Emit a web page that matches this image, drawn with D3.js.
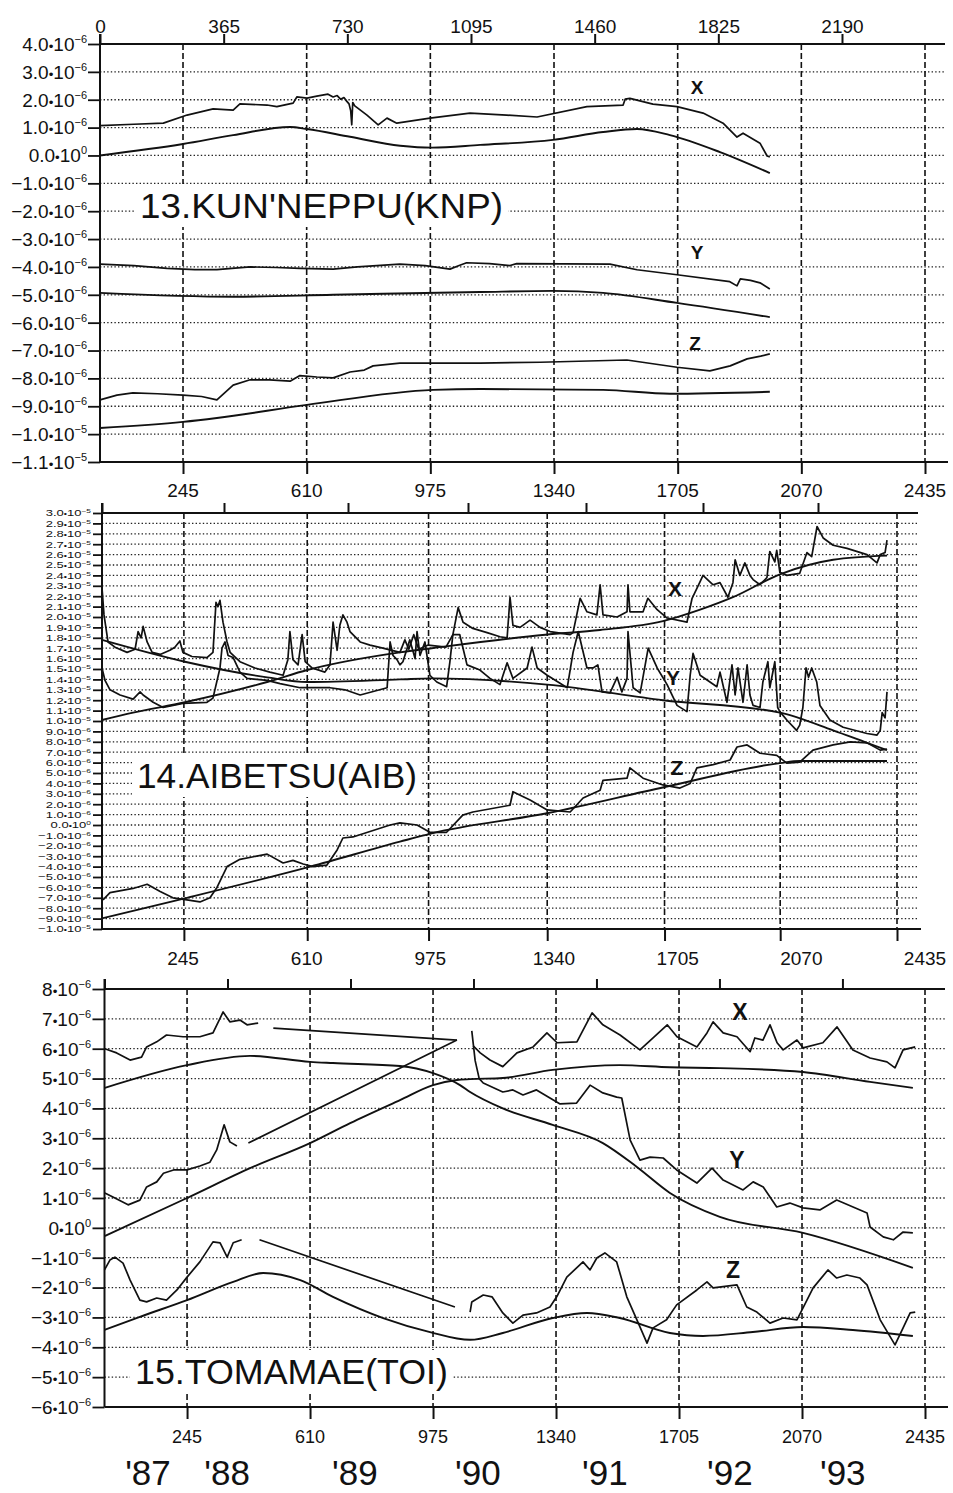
<!DOCTYPE html>
<html>
<head>
<meta charset="utf-8">
<script src="https://cdn.jsdelivr.net/npm/d3@7"></script>
<style>
  body { margin: 0; background: #fff; }
  svg { display: block; }
  text { font-family: "Liberation Sans", Arial, Helvetica, sans-serif; fill: #111; }
</style>
</head>
<body>
<script>
// Day counts on the top axes and year boundaries on the bottom axes
const dayTicks = [0, 365, 730, 1095, 1460, 1825, 2190];
const yearTicks = [245, 610, 975, 1340, 1705, 2070, 2435];
const yearNames = ["'87", "'88", "'89", "'90", "'91", "'92", "'93"];
const yearNameDays = [129, 364, 743, 1108, 1485, 1856, 2191];

// Values are [day, strain in units of 1e-6]; null breaks a line

// 13. KUN'NEPPU
const knpXObs = [[0,1.07],[100,1.12],[187,1.16],[257,1.45],[334,1.67],[393,1.63],[413,1.85],[493,1.81],[522,1.75],[570,1.88],[581,2.1],[611,2.06],[640,2.13],[673,2.2],[688,2.1],[700,2.15],[710,2.02],[720,2.08],[728,1.95],[735,1.85],[740,1.6],[743,1.1],[746,1.9],[752,1.78],[788,1.45],[821,1.1],[847,1.34],[876,1.16],[974,1.34],[1092,1.52],[1200,1.45],[1290,1.38],[1437,1.75],[1544,1.81],[1550,2.02],[1564,2.05],[1632,1.84],[1703,1.75],[1780,1.52],[1839,1.16],[1880,0.66],[1898,0.8],[1948,0.44],[1969,-0.02],[1977,-0.05]];
const knpXTh = [[0,0.0],[245,0.41],[393,0.73],[561,1.02],[611,0.95],[738,0.67],[886,0.35],[980,0.28],[1122,0.38],[1337,0.56],[1485,0.84],[1585,0.95],[1682,0.73],[1830,0.12],[1977,-0.63]];
const knpYObs = [[0,-3.9],[100,-3.95],[198,-4.05],[280,-4.1],[345,-4.1],[443,-4.0],[520,-4.02],[590,-4.05],[688,-4.08],[760,-4.0],[885,-3.9],[960,-3.95],[1033,-4.08],[1060,-3.95],[1082,-3.85],[1150,-3.88],[1210,-3.95],[1230,-3.88],[1505,-3.9],[1585,-4.1],[1703,-4.28],[1859,-4.53],[1880,-4.68],[1890,-4.43],[1920,-4.48],[1948,-4.57],[1977,-4.79]];
const knpYTh = [[0,-4.93],[393,-5.07],[688,-5.0],[1122,-4.9],[1337,-4.86],[1485,-4.93],[1703,-5.29],[1977,-5.8]];
const knpZObs = [[0,-8.77],[50,-8.6],[97,-8.52],[170,-8.55],[245,-8.6],[300,-8.65],[345,-8.77],[393,-8.24],[443,-8.05],[500,-8.05],[561,-8.1],[590,-7.9],[640,-7.95],[688,-7.98],[738,-7.77],[780,-7.7],[806,-7.55],[885,-7.45],[1122,-7.45],[1300,-7.42],[1555,-7.34],[1703,-7.6],[1800,-7.73],[1860,-7.55],[1910,-7.3],[1950,-7.2],[1977,-7.12]];
const knpZTh = [[0,-9.78],[245,-9.56],[345,-9.42],[611,-8.95],[983,-8.41],[1122,-8.38],[1485,-8.41],[1682,-8.55],[1977,-8.48]];

// 14. AIBETSU
const aibXObs = [[0,22.8],[6,20.2],[18,17.6],[39,17.1],[75,16.6],[99,16.9],[108,18.6],[117,18.0],[123,19.1],[135,17.6],[150,16.6],[174,16.4],[203,16.8],[218,17.1],[233,17.7],[242,16.6],[269,16.2],[314,16.1],[332,16.6],[341,21.4],[347,21.0],[353,21.6],[362,19.5],[374,17.6],[383,16.6],[412,15.7],[456,15.1],[500,14.7],[539,14.4],[553,15.9],[559,18.6],[568,15.9],[583,15.4],[595,18.3],[604,15.7],[624,15.1],[662,14.7],[677,15.4],[686,19.5],[698,16.8],[706,19.2],[715,20.2],[727,19.5],[736,18.6],[767,17.6],[797,17.3],[836,17.0],[888,16.6],[903,17.8],[915,16.9],[930,18.3],[945,16.9],[974,17.3],[1028,17.1],[1049,18.3],[1065,20.9],[1080,19.5],[1110,18.9],[1154,18.5],[1194,18.1],[1216,18.0],[1225,21.9],[1234,19.2],[1256,19.0],[1287,19.7],[1318,19.0],[1349,18.6],[1411,18.3],[1420,18.5],[1442,21.8],[1463,20.5],[1494,20.2],[1504,23.1],[1513,20.2],[1557,20.0],[1588,20.5],[1591,23.1],[1597,20.5],[1638,20.5],[1653,21.8],[1682,20.7],[1713,19.9],[1775,19.5],[1791,21.8],[1816,23.4],[1825,24.0],[1857,23.1],[1879,23.3],[1904,21.9],[1920,23.3],[1927,25.5],[1942,24.0],[1958,25.2],[1974,24.0],[1984,23.6],[2006,23.1],[2028,23.8],[2037,26.3],[2053,25.3],[2059,26.4],[2069,24.3],[2091,24.0],[2132,24.2],[2155,26.2],[2170,25.8],[2187,28.7],[2206,27.6],[2237,26.9],[2280,26.6],[2342,26.0],[2373,25.2],[2383,26.0],[2398,26.2],[2404,27.4]];
const aibXTh = [[0,10.1],[93,10.8],[248,11.8],[492,13.75],[610,14.9],[888,16.6],[985,17.0],[1334,18.3],[1504,18.75],[1700,19.6],[1816,20.7],[1920,21.9],[2069,24.1],[2237,25.5],[2404,25.9]];
const aibYObs = [[0,15.1],[9,13.9],[24,13.0],[54,12.5],[93,12.1],[114,12.8],[123,12.5],[153,11.8],[183,11.3],[242,11.7],[314,11.8],[332,12.2],[353,15.1],[359,17.0],[368,17.6],[377,16.3],[392,16.1],[412,14.7],[433,14.1],[492,13.9],[530,13.6],[589,13.2],[677,13.2],[721,13.0],[767,12.5],[849,13.2],[858,17.6],[867,16.3],[879,15.9],[888,15.4],[897,15.7],[918,17.8],[934,16.0],[940,18.6],[949,16.3],[964,17.6],[979,14.4],[1000,13.75],[1030,13.3],[1040,15.7],[1049,18.3],[1070,18.3],[1092,15.4],[1132,14.9],[1163,14.1],[1194,13.5],[1216,15.6],[1234,14.1],[1278,15.1],[1293,17.1],[1309,15.1],[1340,14.4],[1402,13.2],[1420,16.6],[1436,18.6],[1463,15.1],[1482,15.1],[1497,15.4],[1510,12.8],[1535,12.7],[1557,14.2],[1572,12.8],[1588,14.1],[1591,18.6],[1607,13.2],[1629,12.7],[1654,17.0],[1682,15.1],[1713,13.5],[1744,11.5],[1775,10.9],[1785,14.4],[1794,16.5],[1816,14.4],[1869,13.3],[1879,14.7],[1901,11.8],[1917,15.4],[1927,12.5],[1936,15.1],[1952,11.8],[1965,15.4],[1974,12.5],[1984,11.5],[2006,11.3],[2015,13.75],[2031,15.7],[2037,13.2],[2053,15.7],[2062,11.3],[2069,10.9],[2091,10.1],[2122,9.1],[2132,9.6],[2142,11.3],[2152,15.1],[2160,14.2],[2170,15.1],[2186,13.75],[2196,11.5],[2227,10.1],[2268,9.4],[2342,8.8],[2373,8.65],[2383,9.1],[2389,10.8],[2398,10.3],[2404,12.8]];
const aibYTh = [[0,17.8],[248,15.7],[492,14.2],[610,13.75],[888,14.0],[985,14.1],[1340,13.5],[1700,12.0],[2069,10.8],[2237,9.1],[2342,7.9],[2404,7.2]];
const aibZObs = [[3,-7.2],[24,-6.5],[93,-6.1],[135,-5.7],[174,-6.4],[212,-7.0],[254,-7.2],[293,-7.4],[323,-7.0],[344,-6.0],[374,-4.0],[412,-3.3],[492,-2.8],[539,-3.65],[568,-3.4],[598,-3.75],[627,-4.0],[668,-3.85],[698,-2.4],[715,-1.25],[745,-1.15],[858,0.0],[888,0.2],[940,0.0],[979,-0.7],[1030,-0.7],[1079,0.95],[1110,1.25],[1225,1.9],[1234,3.2],[1287,2.4],[1340,1.45],[1411,1.25],[1451,2.6],[1504,3.35],[1513,4.3],[1588,4.5],[1597,5.5],[1638,4.5],[1700,3.85],[1753,3.55],[1785,4.0],[1806,5.5],[1857,5.8],[1911,6.25],[1933,7.5],[1965,7.7],[2006,6.9],[2059,6.7],[2091,5.95],[2132,6.05],[2174,7.2],[2237,7.7],[2290,8.0],[2342,7.9],[2383,7.2],[2404,7.3]];
const aibZTh = [[3,-8.95],[254,-7.0],[619,-4.0],[888,-1.6],[985,-0.8],[1343,1.15],[1706,3.65],[2069,5.95],[2132,6.15],[2404,6.15]];

// 15. TOMAMAE (the straight pieces bridge a gap in the record)
const toiXObs = [[1,6.0],[36,5.86],[76,5.62],[110,5.72],[125,6.06],[155,6.23],[184,6.46],[233,6.4],[283,6.4],[322,6.53],[352,7.23],[372,6.9],[402,6.96],[423,6.8],[456,6.86],null,[501,6.69],[1046,6.29],null,[1094,6.1],[1115,5.86],[1144,5.62],[1182,5.4],[1224,5.86],[1272,6.06],[1313,6.53],[1343,6.2],[1402,6.23],[1447,7.2],[1479,6.8],[1530,6.46],[1589,5.96],[1628,6.36],[1670,6.8],[1699,6.4],[1758,6.06],[1788,6.53],[1806,6.9],[1836,6.53],[1877,6.4],[1916,5.9],[1930,6.36],[1954,6.29],[1975,6.8],[1996,6.2],[2014,5.96],[2055,6.29],[2073,6.03],[2132,6.2],[2174,6.73],[2221,5.96],[2272,5.69],[2322,5.56],[2346,5.36],[2370,5.96],[2406,6.06]];
const toiXTh = [[1,-0.27],[245,1.0],[432,2.0],[610,2.84],[729,3.51],[877,4.28],[975,4.78],[1046,4.95],[1085,4.98],[1182,5.02],[1330,5.29],[1529,5.45],[1678,5.38],[1826,5.35],[2073,5.22],[2272,4.89],[2399,4.69]];
const toiYObs = [[1,1.17],[25,1.03],[70,0.77],[105,0.93],[125,1.37],[155,1.54],[175,1.83],[205,1.94],[245,1.94],[283,2.07],[313,2.2],[333,2.61],[355,3.45],[372,2.88],[393,2.74],null,[427,2.84],[1046,6.29],null,[1090,6.6],[1100,5.6],[1112,5.0],[1124,4.85],[1182,4.55],[1212,4.62],[1242,4.45],[1282,4.62],[1322,4.35],[1352,4.15],[1401,4.18],[1441,4.78],[1479,4.52],[1520,4.38],[1535,4.35],[1560,2.94],[1589,2.27],[1619,2.37],[1658,2.34],[1698,1.94],[1758,1.5],[1803,2.0],[1836,1.6],[1895,1.27],[1925,1.54],[1955,1.37],[1995,0.7],[2034,0.83],[2073,0.67],[2123,0.6],[2173,0.93],[2263,0.5],[2272,0.03],[2311,-0.3],[2341,-0.4],[2370,-0.14],[2399,-0.17]];
const toiYTh = [[1,4.69],[245,5.45],[432,5.76],[610,5.56],[678,5.52],[877,5.42],[975,5.18],[1055,4.78],[1085,4.55],[1182,4.0],[1330,3.45],[1479,2.84],[1580,2.04],[1678,1.17],[1826,0.37],[2073,-0.17],[2399,-1.34]];
const toiZObs = [[0,-1.41],[16,-1.08],[31,-0.98],[55,-1.18],[76,-1.75],[105,-2.42],[125,-2.48],[155,-2.35],[184,-2.42],[215,-2.08],[245,-1.65],[283,-1.14],[322,-0.47],[343,-0.5],[364,-0.98],[382,-0.5],[407,-0.4],null,[460,-0.4],[1040,-2.65],null,[1085,-2.82],[1090,-2.48],[1124,-2.25],[1150,-2.31],[1182,-2.85],[1212,-3.19],[1242,-2.92],[1282,-2.85],[1322,-2.65],[1342,-2.31],[1372,-1.65],[1420,-1.14],[1441,-1.41],[1461,-1.01],[1485,-0.84],[1520,-1.14],[1550,-2.31],[1580,-3.08],[1610,-3.86],[1628,-3.35],[1668,-3.08],[1698,-2.58],[1758,-2.08],[1788,-1.81],[1806,-2.01],[1877,-1.91],[1906,-2.65],[1936,-2.82],[1975,-3.19],[2014,-3.02],[2055,-3.08],[2073,-2.68],[2103,-2.01],[2147,-1.41],[2173,-1.68],[2203,-1.58],[2242,-1.68],[2263,-1.91],[2302,-3.08],[2346,-3.92],[2370,-3.35],[2391,-2.85],[2406,-2.82]];
const toiZTh = [[0,-3.42],[105,-2.98],[245,-2.42],[382,-1.81],[471,-1.51],[581,-1.75],[678,-2.31],[827,-3.02],[966,-3.49],[1085,-3.75],[1182,-3.52],[1330,-3.02],[1432,-2.85],[1529,-3.02],[1678,-3.52],[1776,-3.62],[1924,-3.49],[2073,-3.32],[2221,-3.42],[2399,-3.62]];

const svg = d3.select("body").append("svg")
    .attr("width", 953)
    .attr("height", 1493);

const MINUS = "\u2212";

// Labels like 4.0•10^-6, written as mantissa and exponent
const fmtDecimal = v => v === 0 ? ["0.0", "0"]
    : Math.abs(v) >= 10 ? [(v / 10).toFixed(1), "-5"] : [v.toFixed(1), "-6"];
const fmtInteger = v => v === 0 ? ["0", "0"] : [String(v), "-6"];

const panels = [
    {
        x: d3.scaleLinear().domain([0, 2435]).range([100, 925]),
        y: d3.scaleLinear().domain([-11, 4]).range([462, 44]),
        yTicks: d3.range(-11, 5), fmt: fmtDecimal,
        right: 945, labelEnd: 87, tickLen: 12, fs: 19, sup: 11, supDy: -8, sx: 1,
        topLabels: true, bottomLabelY: 497, bottomFs: 19,
        labelScale: d3.scaleLinear().domain([0, 2435]).range([100, 925]),
        title: "13.KUN'NEPPU(KNP)", titleX: 140, titleY: 218, titleW: 363,
        comps: [
            { name: "X", obs: knpXObs, th: knpXTh, lx: 697, ly: 94, fs: 19 },
            { name: "Y", obs: knpYObs, th: knpYTh, lx: 697, ly: 259, fs: 19 },
            { name: "Z", obs: knpZObs, th: knpZTh, lx: 695, ly: 350, fs: 19 }
        ]
    },
    {
        // the scanned middle panel is slightly squeezed to the right
        x: d3.scaleLinear().domain([0, 365, 730, 1095, 1460, 1825, 2190, 2435])
            .range([102, 224, 348, 468, 586, 703, 818, 897]),
        y: d3.scaleLinear().domain([-10, 30]).range([929, 513]),
        yTicks: d3.range(-10, 31), fmt: fmtDecimal,
        right: 918, labelEnd: 91, tickLen: 9, fs: 9.3, sup: 6, supDy: -3, sx: 1.4,
        topLabels: false, bottomLabelY: 965, bottomFs: 19,
        labelScale: d3.scaleLinear().domain([0, 2435]).range([100, 925]),
        title: "14.AIBETSU(AIB)", titleX: 137, titleY: 788, titleW: 280,
        comps: [
            { name: "X", obs: aibXObs, th: aibXTh, lx: 675, ly: 596, fs: 21 },
            { name: "Y", obs: aibYObs, th: aibYTh, lx: 673, ly: 685, fs: 21 },
            { name: "Z", obs: aibZObs, th: aibZTh, lx: 677, ly: 775, fs: 21 }
        ]
    },
    {
        x: d3.scaleLinear().domain([0, 2435]).range([104.5, 925]),
        y: d3.scaleLinear().domain([-6, 8]).range([1407, 989]),
        yTicks: d3.range(-6, 9), fmt: fmtInteger,
        right: 945, labelEnd: 91, tickLen: 12, fs: 19, sup: 11, supDy: -8, sx: 1,
        topLabels: false, bottomLabelY: 1443, bottomFs: 18,
        labelScale: d3.scaleLinear().domain([0, 2435]).range([104.5, 925]),
        title: "15.TOMAMAE(TOI)", titleX: 135, titleY: 1384, titleW: 313,
        comps: [
            { name: "X", obs: toiXObs, th: toiXTh, lx: 740, ly: 1020, fs: 23 },
            { name: "Y", obs: toiYObs, th: toiYTh, lx: 737, ly: 1168, fs: 23 },
            { name: "Z", obs: toiZObs, th: toiZTh, lx: 733, ly: 1278, fs: 23 }
        ]
    }
];

panels.forEach(drawPanel);

// Year names under the last panel
const lastX = panels[2].x;
svg.append("g").selectAll("text")
    .data(yearNames)
    .enter()
    .append("text")
    .attr("x", (d, i) => lastX(yearNameDays[i]))
    .attr("y", 1485)
    .attr("text-anchor", "middle")
    .style("font-size", "35px")
    .text(d => d);

function drawPanel(p) {
    const g = svg.append("g");
    const x = p.x, y = p.y;
    const x0 = x(0);
    const top = y.range()[1], bottom = y.range()[0];

    // dotted horizontal grid
    g.append("g").selectAll("line")
        .data(p.yTicks.slice(1, -1))
        .enter()
        .append("line")
        .attr("x1", x0).attr("x2", p.right)
        .attr("y1", d => y(d)).attr("y2", d => y(d))
        .attr("stroke", "#222")
        .attr("stroke-width", 1.3)
        .attr("stroke-dasharray", "1.4,2.2");

    // dashed year boundaries
    g.append("g").selectAll("line")
        .data(yearTicks)
        .enter()
        .append("line")
        .attr("x1", d => x(d)).attr("x2", d => x(d))
        .attr("y1", top).attr("y2", bottom)
        .attr("stroke", "#111")
        .attr("stroke-width", 1.6)
        .attr("stroke-dasharray", "6,3");

    // panel title on a white patch that hides the grid
    const title = g.append("text")
        .attr("x", p.titleX)
        .attr("y", p.titleY)
        .attr("textLength", p.titleW)
        .attr("lengthAdjust", "spacingAndGlyphs")
        .style("font-size", "35px")
        .text(p.title);
    const bb = title.node().getBBox();
    g.insert("rect", "text")
        .attr("x", bb.x - 5).attr("y", bb.y - 2)
        .attr("width", bb.width + 10).attr("height", bb.height + 4)
        .attr("fill", "#fff");

    // axis frame: left, top and bottom lines
    g.append("line").attr("x1", x0).attr("x2", x0)
        .attr("y1", top - 10).attr("y2", bottom)
        .attr("stroke", "#111").attr("stroke-width", 2);
    g.append("line").attr("x1", x0).attr("x2", p.right)
        .attr("y1", top).attr("y2", top)
        .attr("stroke", "#111").attr("stroke-width", 2);
    g.append("line").attr("x1", x0).attr("x2", p.right + 3)
        .attr("y1", bottom).attr("y2", bottom)
        .attr("stroke", "#111").attr("stroke-width", 2);

    // day ticks pointing up from the top axis
    const topAxis = g.append("g")
        .attr("transform", "translate(0," + top + ")")
        .call(d3.axisTop(x).tickValues(dayTicks).tickSize(10).tickSizeOuter(0)
            .tickFormat(d => p.topLabels ? d : ""));
    topAxis.select(".domain").remove();
    topAxis.selectAll("line").attr("stroke", "#111").attr("stroke-width", 2);
    topAxis.selectAll("text").style("font-size", p.fs + "px")
        .attr("font-family", null).attr("dy", "0.1em");

    // year ticks pointing down from the bottom axis
    const botAxis = g.append("g")
        .attr("transform", "translate(0," + bottom + ")")
        .call(d3.axisBottom(x).tickValues(yearTicks).tickSize(12).tickSizeOuter(0).tickFormat(""));
    botAxis.select(".domain").remove();
    botAxis.selectAll("line").attr("stroke", "#111").attr("stroke-width", 2);

    g.append("g").selectAll("text")
        .data(yearTicks)
        .enter()
        .append("text")
        .attr("x", d => p.labelScale(d))
        .attr("y", p.bottomLabelY)
        .attr("text-anchor", "middle")
        .style("font-size", p.bottomFs + "px")
        .text(d => d);

    // left ticks and scientific labels
    const leftAxis = g.append("g")
        .attr("transform", "translate(" + x0 + ",0)")
        .call(d3.axisLeft(y).tickValues(p.yTicks).tickSize(p.tickLen).tickSizeOuter(0).tickFormat(""));
    leftAxis.select(".domain").remove();
    leftAxis.selectAll("line").attr("stroke", "#111").attr("stroke-width", 1.8);

    const labels = g.append("g").selectAll("text")
        .data(p.yTicks)
        .enter()
        .append("text")
        .attr("transform", d => "translate(" + p.labelEnd + "," + (y(d) + p.fs * 0.36) + ") scale(" + p.sx + ",1)")
        .attr("text-anchor", "end")
        .style("font-size", p.fs + "px");
    labels.each(function (d) {
        const [m, e] = p.fmt(d);
        const t = d3.select(this);
        t.append("tspan").text(m.replace("-", MINUS));
        t.append("tspan").style("font-size", (p.fs * 0.7) + "px").text("\u2022");
        t.append("tspan").text("10");
        t.append("tspan").attr("dy", p.supDy)
            .style("font-size", p.sup + "px")
            .text(e.replace("-", MINUS));
    });

    // observed and theoretical curves
    const obsLine = d3.line()
        .defined(d => d !== null)
        .x(d => x(d[0]))
        .y(d => y(d[1]));
    const thLine = d3.line()
        .x(d => x(d[0]))
        .y(d => y(d[1]))
        .curve(d3.curveMonotoneX);

    p.comps.forEach(c => {
        g.append("path").attr("d", obsLine(c.obs))
            .attr("fill", "none").attr("stroke", "#111").attr("stroke-width", 1.7)
            .attr("stroke-linejoin", "round");
        g.append("path").attr("d", thLine(c.th))
            .attr("fill", "none").attr("stroke", "#111").attr("stroke-width", 1.9);
        g.append("text")
            .attr("x", c.lx).attr("y", c.ly)
            .attr("text-anchor", "middle")
            .style("font-size", c.fs + "px")
            .style("font-weight", "bold")
            .text(c.name);
    });
}
</script>
</body>
</html>
